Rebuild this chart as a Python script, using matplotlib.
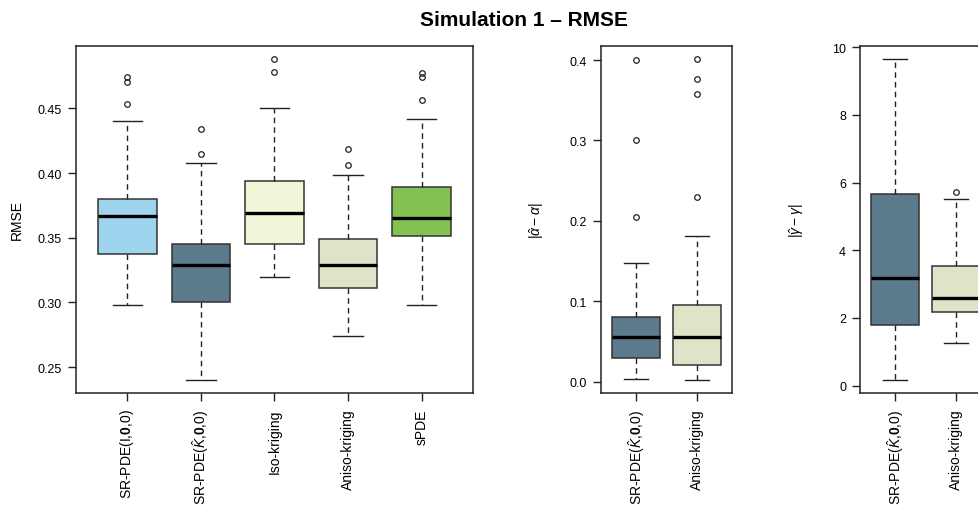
import matplotlib
matplotlib.use("Agg")
import matplotlib.pyplot as plt

plt.rcParams['font.family'] = ['Liberation Sans', 'DejaVu Sans']
plt.rcParams['mathtext.fontset'] = 'custom'
plt.rcParams['mathtext.rm'] = 'Liberation Sans'
plt.rcParams['mathtext.it'] = 'Liberation Sans:italic'
plt.rcParams['mathtext.bf'] = 'Liberation Sans:bold'

# ---- Data: panel 1 (RMSE) ----
rmse_labels = [r"SR-PDE(I,$\mathbf{0}$,0)", r"SR-PDE($\hat{K}$,$\mathbf{0}$,0)",
               "Iso-kriging", "Aniso-kriging", "sPDE"]
rmse_colors = ["#9FD4EE", "#5B7A8C", "#F2F5D7", "#E1E3C8", "#83C150"]
rmse_whislo = [0.2977, 0.2400, 0.3194, 0.2738, 0.2977]
rmse_q1     = [0.3373, 0.3003, 0.3450, 0.3112, 0.3515]
rmse_med    = [0.3670, 0.3287, 0.3693, 0.3293, 0.3654]
rmse_q3     = [0.3802, 0.3455, 0.3937, 0.3491, 0.3889]
rmse_whishi = [0.4402, 0.4074, 0.4505, 0.3987, 0.4417]
rmse_fliers = [[0.4536, 0.4707, 0.4738], [0.4144, 0.4343], [0.4781, 0.4882],
               [0.4064, 0.4185], [0.4567, 0.4745, 0.4773]]

# ---- Data: panel 2 (|alpha_hat - alpha|) ----
alpha_labels = [r"SR-PDE($\hat{K}$,$\mathbf{0}$,0)", "Aniso-kriging"]
alpha_colors = ["#5B7A8C", "#E1E3C8"]
alpha_whislo = [0.0034, 0.0017]
alpha_q1     = [0.0287, 0.0200]
alpha_med    = [0.0554, 0.0549]
alpha_q3     = [0.0798, 0.0957]
alpha_whishi = [0.1477, 0.1809]
alpha_fliers = [[0.2042, 0.3011, 0.4000], [0.2291, 0.3576, 0.3767, 0.4016]]

# ---- Data: panel 3 (|gamma_hat - gamma|) ----
gamma_labels = [r"SR-PDE($\hat{K}$,$\mathbf{0}$,0)", "Aniso-kriging"]
gamma_colors = ["#5B7A8C", "#E1E3C8"]
gamma_whislo = [0.16, 1.27]
gamma_q1     = [1.80, 2.18]
gamma_med    = [3.18, 2.60]
gamma_q3     = [5.65, 3.53]
gamma_whishi = [9.66, 5.53]
gamma_fliers = [[], [5.71]]

W, H = 979, 506
fig = plt.figure(figsize=(W / 100, H / 100), dpi=100)


def px_axes(x0, x1, y0, y1):
    return fig.add_axes([x0 / W, 1 - y1 / H, (x1 - x0) / W, (y1 - y0) / H])


def draw(ax, labels, colors, lo, q1, med, q3, hi, fliers, yticks, fmt, ylabel, ylab_x):
    n = len(labels)
    stats = []
    for i in range(n):
        stats.append(dict(whislo=lo[i], q1=q1[i], med=med[i], q3=q3[i],
                          whishi=hi[i], fliers=fliers[i], label=labels[i]))
    pos = list(range(1, n + 1))
    bp = ax.bxp(stats, positions=pos, widths=0.8, capwidths=0.4, patch_artist=True,
                boxprops=dict(edgecolor="#333333", linewidth=1.1),
                medianprops=dict(color="black", linewidth=2.4, solid_capstyle="butt"),
                whiskerprops=dict(color="#222222", linewidth=1.0, linestyle=(0, (4, 3))),
                capprops=dict(color="#222222", linewidth=1.0),
                flierprops=dict(marker="o", markersize=4, markerfacecolor="none",
                                markeredgecolor="#222222", markeredgewidth=0.9, linestyle="none"))
    for patch, c in zip(bp["boxes"], colors):
        patch.set_facecolor(c)
    # R-style 4% expansion
    ax.set_xlim(0.5 - 0.04 * n, n + 0.5 + 0.04 * n)
    allv = list(lo) + list(hi) + [v for f in fliers for v in f]
    vmin, vmax = min(allv), max(allv)
    r = vmax - vmin
    ax.set_ylim(vmin - 0.04 * r, vmax + 0.04 * r)
    ax.set_yticks(yticks)
    ax.set_yticklabels([fmt.format(t) for t in yticks])
    ax.set_xticks(pos)
    ax.set_xticklabels(labels, rotation=90, ha="center", va="top", fontsize=10)
    for s in ax.spines.values():
        s.set_linewidth(1.1)
        s.set_color("#222222")
    ax.tick_params(axis="both", direction="out", length=6, width=1.0, color="#222222",
                   labelsize=9, pad=4, top=False, right=False)
    ax.tick_params(axis="x", pad=5, labelsize=10)
    ax.set_ylabel(ylabel, fontsize=10, va="center")
    ax.yaxis.set_label_coords(ylab_x / W, 0.5, transform=fig.transFigure)
    ax.yaxis.label.set_transform(matplotlib.transforms.blended_transform_factory(
        fig.transFigure, ax.transAxes))


ax1 = px_axes(76, 473, 47, 394)
draw(ax1, rmse_labels, rmse_colors, rmse_whislo, rmse_q1, rmse_med, rmse_q3, rmse_whishi,
     rmse_fliers, [0.25, 0.30, 0.35, 0.40, 0.45], "{:.2f}", "RMSE", 17)

ax2 = px_axes(601, 732, 47, 394)
draw(ax2, alpha_labels, alpha_colors, alpha_whislo, alpha_q1, alpha_med, alpha_q3,
     alpha_whishi, alpha_fliers, [0.0, 0.1, 0.2, 0.3, 0.4], "{:.1f}",
     r"$|\hat{\alpha} - \alpha|$", 537)

ax3 = px_axes(860, 991, 47, 394)
draw(ax3, gamma_labels, gamma_colors, gamma_whislo, gamma_q1, gamma_med, gamma_q3,
     gamma_whishi, gamma_fliers, [0, 2, 4, 6, 8, 10], "{:d}",
     r"$|\hat{\gamma} - \gamma|$", 797)

fig.text(524 / W, 1 - 20 / H, "Simulation 1 – RMSE", ha="center", va="center",
         fontsize=15, fontweight="bold")

fig.savefig("out.png", dpi=100)
